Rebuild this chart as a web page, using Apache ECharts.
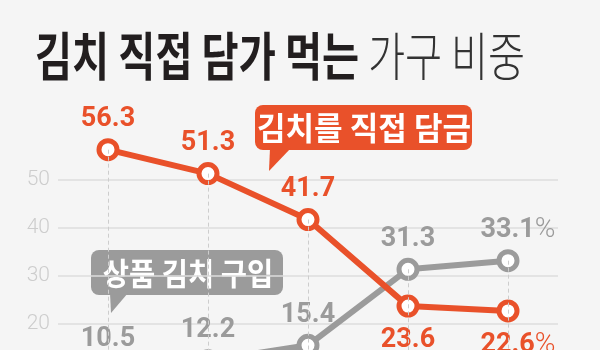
<!DOCTYPE html>
<html>
<head>
<meta charset="utf-8">
<script src="https://cdn.jsdelivr.net/npm/echarts@6/dist/echarts.min.js"></script>
<style>
html,body{margin:0;padding:0;background:#f5f5f5;}
#chart{width:600px;height:350px;}
</style>
</head>
<body>
<div id="chart"></div>
<script>
// ---- data ----
var categories = ['1', '2', '3', '4', '5'];
var homemade = [56.3, 51.3, 41.7, 23.6, 22.6];   // 김치를 직접 담금
var purchased = [10.5, 12.2, 15.4, 31.3, 33.1];  // 상품 김치 구입
var yTicks = [0, 10, 20, 30, 40, 50, 60];
var titleBold = '김치 직접 담가 먹는';
var titleLight = '가구 비중';
var homemadeName = '김치를 직접 담금';
var purchasedName = '상품 김치 구입';

var ORANGE = '#e9512a';
var GRAY = '#9b9b9b';
var NUMFONT = 'Roboto';
var KFONT = '"Noto Sans CJK KR"';

function labelFmt(arr) {
  return function (p) {
    var v = arr[p.dataIndex].toFixed(1);
    if (p.dataIndex === arr.length - 1) return '{n|' + v + '}{p|%}';
    return '{n|' + v + '}';
  };
}
function rich(color) {
  return {
    n: { fontFamily: NUMFONT, fontWeight: 'bold', fontSize: 27, color: color },
    p: { fontFamily: NUMFONT, fontWeight: 300, fontSize: 28, color: color }
  };
}

var homemadeData = homemade.map(function (v, i) {
  var below = v < purchased[i];
  var last = i === homemade.length - 1;
  return {
    value: v,
    label: {
      position: below ? 'bottom' : 'top',
      distance: below ? 9 : 5,
      offset: last ? [10, 0] : [0, 0]
    }
  };
});
var purchasedData = purchased.map(function (v, i) {
  var last = i === purchased.length - 1;
  return { value: v, label: { position: 'top', distance: 5, offset: last ? [10, 0] : [0, 0] } };
});

// vertical dashed guides from the upper point down to the axis base
var guideLines = categories.map(function (c, i) {
  return [{ coord: [i, Math.max(homemade[i], purchased[i])] }, { coord: [i, yTicks[0]] }];
});

var chart = echarts.init(document.getElementById('chart'), null, { renderer: 'canvas' });
chart.setOption({
  backgroundColor: '#f5f5f5',
  animation: false,
  grid: { left: 58, right: 42, top: 132, bottom: -69, containLabel: false, outerBoundsMode: 'none' },
  xAxis: {
    type: 'category',
    data: categories,
    boundaryGap: true,
    axisLine: { show: false },
    axisTick: { show: false },
    axisLabel: { show: false },
    splitLine: { show: false }
  },
  yAxis: {
    type: 'value',
    min: yTicks[0],
    max: yTicks[yTicks.length - 1],
    interval: 10,
    axisLine: { show: false },
    axisTick: { show: false },
    axisLabel: {
      margin: 8,
      color: '#cdcdcd',
      fontFamily: NUMFONT,
      fontWeight: 300,
      fontSize: 21,
      showMaxLabel: false
    },
    splitLine: {
      show: true,
      showMaxLine: false,
      lineStyle: { color: '#dcdcdc', width: 1.5 }
    }
  },
  series: [
    {
      type: 'line',
      data: [],
      z: 1,
      silent: true,
      markLine: {
        silent: true,
        symbol: ['none', 'none'],
        label: { show: false },
        lineStyle: { color: '#cdcdcd', type: [4, 3], width: 1 },
        data: guideLines
      }
    },
    {
      name: purchasedName,
      type: 'line',
      z: 3,
      data: purchasedData,
      symbol: 'circle',
      symbolSize: 18,
      lineStyle: { color: GRAY, width: 6 },
      itemStyle: { color: '#ffffff', borderColor: GRAY, borderWidth: 5 },
      label: { show: true, formatter: labelFmt(purchased), rich: rich(GRAY) }
    },
    {
      name: homemadeName,
      type: 'line',
      z: 4,
      data: homemadeData,
      symbol: 'circle',
      symbolSize: 18,
      lineStyle: { color: ORANGE, width: 6 },
      itemStyle: { color: '#ffffff', borderColor: ORANGE, borderWidth: 5 },
      label: { show: true, formatter: labelFmt(homemade), rich: rich(ORANGE) }
    }
  ],
  graphic: [
    {
      type: 'text',
      x: 35, y: 56, scaleX: 0.775, scaleY: 1,
      style: {
        text: '{b|' + titleBold + '}{l| ' + titleLight + '}',
        verticalAlign: 'middle',
        align: 'left',
        rich: {
          b: { fontFamily: KFONT, fontWeight: 'bold', fontSize: 52, fill: '#221e1f', color: '#221e1f' },
          l: { fontFamily: KFONT, fontWeight: 300, fontSize: 52, fill: '#333333', color: '#333333' }
        }
      }
    },
    {
      type: 'group',
      children: [
        { type: 'rect', shape: { x: 255, y: 105, width: 217, height: 45, r: 8 }, style: { fill: ORANGE } },
        { type: 'polygon', shape: { points: [[270, 148], [291, 148], [269, 171]] }, style: { fill: ORANGE } },
        {
          type: 'text', x: 364, y: 128, scaleX: 0.97,
          style: { text: homemadeName, fill: '#ffffff', align: 'center', verticalAlign: 'middle',
                   fontFamily: KFONT, fontWeight: 'bold', fontSize: 32 }
        }
      ]
    },
    {
      type: 'group',
      children: [
        { type: 'rect', shape: { x: 91, y: 250, width: 192, height: 45, r: 8 }, style: { fill: GRAY } },
        { type: 'polygon', shape: { points: [[110, 293], [128, 293], [111, 313]] }, style: { fill: GRAY } },
        {
          type: 'text', x: 188, y: 273, scaleX: 0.92,
          style: { text: purchasedName, fill: '#ffffff', align: 'center', verticalAlign: 'middle',
                   fontFamily: KFONT, fontWeight: 'bold', fontSize: 31 }
        }
      ]
    }
  ]
});
</script>
</body>
</html>
